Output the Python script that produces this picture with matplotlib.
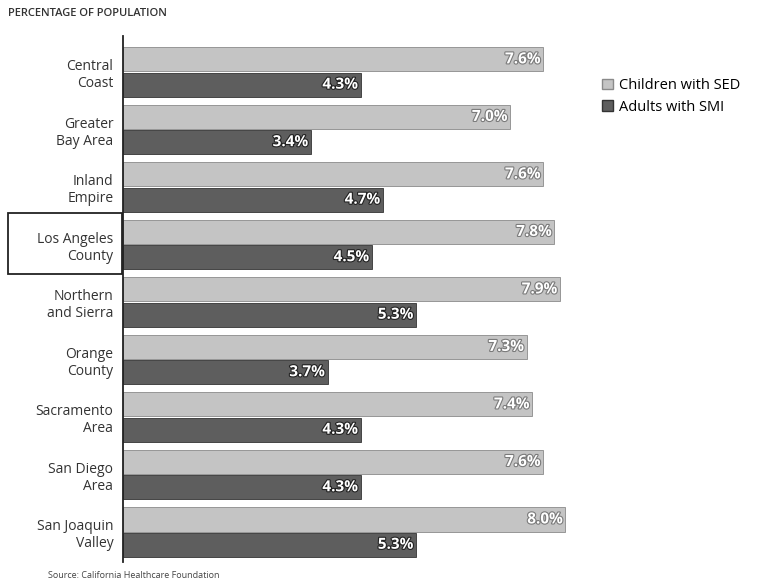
import matplotlib.pyplot as plt
import matplotlib.patches as mpatches
import matplotlib.patheffects as pe
import numpy as np

regions = ["Central\nCoast", "Greater\nBay Area", "Inland\nEmpire", "Los Angeles\nCounty",
           "Northern\nand Sierra", "Orange\nCounty", "Sacramento\nArea", "San Diego\nArea",
           "San Joaquin\nValley"]
children_sed = [7.6, 7.0, 7.6, 7.8, 7.9, 7.3, 7.4, 7.6, 8.0]
adults_smi = [4.3, 3.4, 4.7, 4.5, 5.3, 3.7, 4.3, 4.3, 5.3]

plt.rcParams['font.family'] = ['Open Sans', 'DejaVu Sans']

W, H = 768, 585
fig = plt.figure(figsize=(W / 100, H / 100), dpi=100)
ax = fig.add_axes([123 / W, 1 - 562 / H, (55.3 * 10) / W, 526 / H])

y = np.arange(len(regions))
light = '#c4c4c4'
dark = '#5e5e5e'
ax.barh(y - 0.22, children_sed, height=0.42, color=light, edgecolor='#8a8a8a', linewidth=0.6)
ax.barh(y + 0.22, adults_smi, height=0.42, color=dark, edgecolor='#333333', linewidth=0.6)

# value labels sit inside the bar ends
for yi, v in zip(y, children_sed):
    ax.text(v - 0.05, yi - 0.22, f'{v:.1f}%', ha='right', va='center', fontsize=11,
            fontweight='bold', color='white', fontstretch='condensed',
            path_effects=[pe.withStroke(linewidth=1.6, foreground='#7a7a7a')])
for yi, v in zip(y, adults_smi):
    ax.text(v - 0.05, yi + 0.22, f'{v:.1f}%', ha='right', va='center', fontsize=11,
            fontweight='bold', color='white', fontstretch='condensed',
            path_effects=[pe.withStroke(linewidth=1.6, foreground='#222222')])

ax.set_xlim(0, 10)
ax.set_ylim(8.52, -0.626)
ax.set_yticks(y)
ax.set_yticklabels(regions, fontsize=10, color='#333333', linespacing=1.2,
                   multialignment='right')
ax.tick_params(axis='y', length=0, pad=7)
ax.set_xticks([])
for s in ['top', 'right', 'bottom']:
    ax.spines[s].set_visible(False)
ax.spines['left'].set_color('#222222')
ax.spines['left'].set_linewidth(1.3)

# box around Los Angeles County
fig.patches.append(mpatches.Rectangle((8 / W, 1 - 274 / H), 114 / W, 61 / H,
                                      transform=fig.transFigure, fill=False,
                                      edgecolor='#222222', linewidth=1.3))

fig.text(8 / W, 1 - 14 / H, 'PERCENTAGE OF POPULATION', fontsize=8, color='#333333',
         fontweight='semibold', va='center')
fig.text(48 / W, 1 - 576 / H, 'Source: California Healthcare Foundation', fontsize=6.5,
         color='#444444', va='center')

handles = [mpatches.Patch(facecolor=light, edgecolor='#8a8a8a', label='Children with SED'),
           mpatches.Patch(facecolor=dark, edgecolor='#333333', label='Adults with SMI')]
fig.legend(handles=handles, loc='upper left', bbox_to_anchor=(602 / W, 1 - 78 / H),
           frameon=False, fontsize=10.5, handlelength=0.75, handleheight=0.75,
           handletextpad=0.4, labelspacing=0.45, borderaxespad=0, borderpad=0)

fig.savefig('out.png', dpi=100)
